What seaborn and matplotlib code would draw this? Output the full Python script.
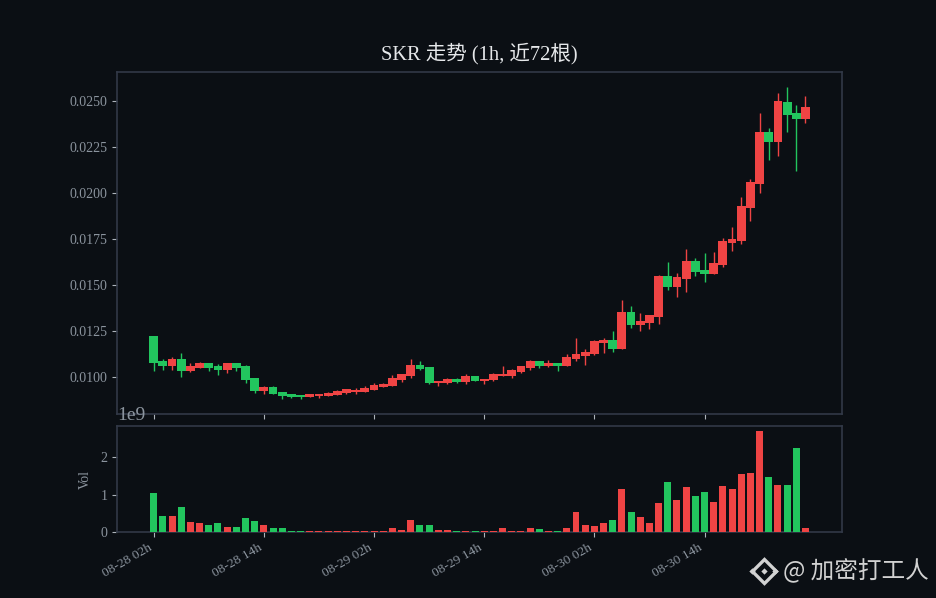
import pandas as pd
import seaborn as sns
import matplotlib.pyplot as plt
from matplotlib.lines import Line2D

# hourly candles
opens = [.01225, .01090, .01064, .01100, .01037, .01053, .01079, .01062, .01042, .01079, .01062, .00997,
         .00927, .00948, .00921, .00910, .00905, .00894, .00900, .00900, .00905, .00916, .00921, .00921,
         .00934, .00948, .00954, .00986, .01008, .01068, .01057, .00970, .00970, .00992, .00976, .01008,
         .00981, .00986, .01008, .01008, .01030, .01052, .01090, .01062, .01079, .01062, .01100, .01117,
         .01127, .01187, .01203, .01155, .01355, .01285, .01296, .01328, .01551, .01491, .01534, .01632,
         .01583, .01561, .01610, .01730, .01740, .01919, .02050, .02332, .02278, .02495, .02435, .02402]
highs = [.01225, .01102, .01113, .01135, .01080, .01086, .01079, .01075, .01079, .01079, .01069, .00997,
         .00956, .00956, .00921, .00910, .00905, .00910, .00910, .00919, .00930, .00938, .00943, .00954,
         .00970, .00970, .01014, .01019, .01100, .01090, .01057, .00981, .00997, .00997, .01019, .01008,
         .00992, .01024, .01062, .01046, .01062, .01095, .01090, .01095, .01079, .01127, .01214, .01155,
         .01203, .01214, .01252, .01420, .01388, .01350, .01339, .01556, .01627, .01567, .01697, .01648,
         .01675, .01681, .01757, .01816, .01979, .02077, .02435, .02354, .02543, .02576, .02478, .02527]
lows = [.01035, .01041, .01041, .01003, .01030, .01050, .01035, .01014, .01024, .01035, .00970, .00916,
        .00912, .00912, .00883, .00889, .00883, .00894, .00888, .00900, .00905, .00910, .00910, .00921,
        .00932, .00948, .00954, .00976, .00997, .01041, .00965, .00954, .00965, .00970, .00965, .00981,
        .00965, .00981, .01008, .00997, .01024, .01041, .01052, .01057, .01035, .01062, .01090, .01068,
        .01122, .01133, .01138, .01155, .01269, .01252, .01263, .01290, .01475, .01437, .01464, .01551,
        .01518, .01561, .01600, .01686, .01724, .01849, .02001, .02180, .02202, .02332, .02120, .02381]
closes = [.01080, .01064, .01099, .01037, .01062, .01079, .01053, .01042, .01079, .01053, .00988, .00927,
          .00948, .00912, .00901, .00894, .00894, .00910, .00910, .00916, .00927, .00938, .00934, .00943,
          .00959, .00965, .00997, .01019, .01068, .01046, .00970, .00981, .00992, .00976, .01008, .00981,
          .00992, .01019, .01019, .01041, .01062, .01090, .01062, .01079, .01062, .01111, .01127, .01138,
          .01198, .01203, .01155, .01355, .01285, .01307, .01339, .01551, .01491, .01545, .01632, .01572,
          .01561, .01621, .01740, .01751, .01930, .02061, .02332, .02278, .02500, .02424, .02402, .02467]
volumes = [1.04, .43, .43, .67, .27, .25, .19, .25, .14, .14, .38, .30,
           .19, .11, .11, .03, .03, .03, .03, .03, .03, .03, .05, .05,
           .05, .03, .11, .06, .33, .19, .19, .06, .06, .03, .05, .03,
           .03, .05, .13, .05, .05, .11, .08, .05, .05, .13, .53, .185,
           .16, .26, .34, 1.16, .555, .40, .26, .79, 1.35, .85, 1.22, .98,
           1.08, .82, 1.24, 1.16, 1.56, 1.59, 2.70, 1.48, 1.27, 1.27, 2.25, .13]
tick_labels = ['08-28 02h', '08-28 14h', '08-29 02h', '08-29 14h', '08-30 02h', '08-30 14h']

BG = '#0b0f14'
EDGE = '#323947'
MUTED = '#8b949e'
UP = '#ef4444'
DOWN = '#22c55e'

df = pd.DataFrame({'open': opens, 'high': highs, 'low': lows, 'close': closes, 'vol': volumes})
df['i'] = range(len(df))
df['dir'] = ['up' if c >= o else 'down' for o, c in zip(opens, closes)]
df['color'] = df['dir'].map({'up': UP, 'down': DOWN})

sns.set_theme(style='dark', rc={'figure.facecolor': BG, 'axes.facecolor': BG, 'savefig.facecolor': BG})
plt.rcParams['font.family'] = ['Liberation Serif', 'Noto Sans CJK SC']

fig = plt.figure(figsize=(9.36, 5.98), dpi=100)
ax1 = fig.add_axes([0.125, 0.3077, 0.7746, 0.572])
ax2 = fig.add_axes([0.125, 0.1097, 0.7746, 0.178], sharex=ax1)

# candles
ax1.vlines(df['i'], df['low'], df['high'], colors=df['color'], linewidth=1, zorder=2)
ax1.bar(df['i'], (df['close'] - df['open']).abs(), bottom=df[['open', 'close']].min(axis=1),
        width=0.96, color=df['color'], linewidth=0, zorder=3)
ax1.set_ylim(0.00802, 0.02657)
ax1.set_yticks([0.0100, 0.0125, 0.0150, 0.0175, 0.0200, 0.0225, 0.0250])
ax1.set_yticklabels(['%.4f' % t for t in ax1.get_yticks()])
ax1.set_title('SKR 走势 (1h, 近72根)', color='#e6e8ea', fontsize=14.8, pad=8)

# volume, drawn over the bottom spine so the thinnest bars still show
sns.barplot(data=df, x='i', y='vol', hue='dir', palette={'up': UP, 'down': DOWN}, dodge=False,
            native_scale=True, width=0.76, saturation=1, legend=False, linewidth=0, zorder=3, ax=ax2)
ax2.set_ylim(0, 2.83)
ax2.set_yticks([0, 1, 2])
ax2.set_yticklabels(['0', '1', '2'])
ax2.set_ylabel('Vol', color=MUTED, fontsize=10, labelpad=6)
ax2.set_xlabel('')
ax2.text(0, 1.015, '1e9', transform=ax2.transAxes, color=MUTED, fontsize=14, ha='left', va='bottom')

ax1.set_xlim(-4.0, 74.98)
ax1.set_xticks(df['i'][::12])
ax2.set_xticklabels(tick_labels)
plt.setp(ax1.get_xticklabels(), visible=False)

for ax in (ax1, ax2):
    ax.grid(False)
    ax.tick_params(axis='both', colors='#aeb4bb', labelcolor=MUTED, labelsize=10, length=3.5, width=0.8,
                   bottom=True, left=True)
    for s in ax.spines.values():
        s.set_color(EDGE)
        s.set_linewidth(1.2)
ax2.tick_params(axis='x', labelsize=9.7)
plt.setp(ax2.get_xticklabels(), rotation=30, ha='right')

# watermark, bottom right
wm = '#d2d2d2'
fig.text(783 / 936, 1 - 571 / 598, '@ 加密打工人', color=wm, fontsize=17, va='center', ha='left',
         family=['Noto Sans CJK SC', 'DejaVu Sans'])
lx, ly = 763.5 / 936, 1 - 570.5 / 598
dx = 10 / 936
fig.add_artist(Line2D([lx], [ly], marker='D', ms=12, mfc='none', mec=wm, mew=2.4, transform=fig.transFigure))
fig.add_artist(Line2D([lx], [ly], marker='D', ms=3.2, mfc=wm, mec=wm, mew=0, transform=fig.transFigure))
fig.add_artist(Line2D([lx - dx - 0.002, lx + dx + 0.002], [ly, ly], ls='', marker='D', ms=3.2, mfc=wm, mec=wm, mew=0,
                      transform=fig.transFigure))

fig.savefig('out.png', dpi=100)
